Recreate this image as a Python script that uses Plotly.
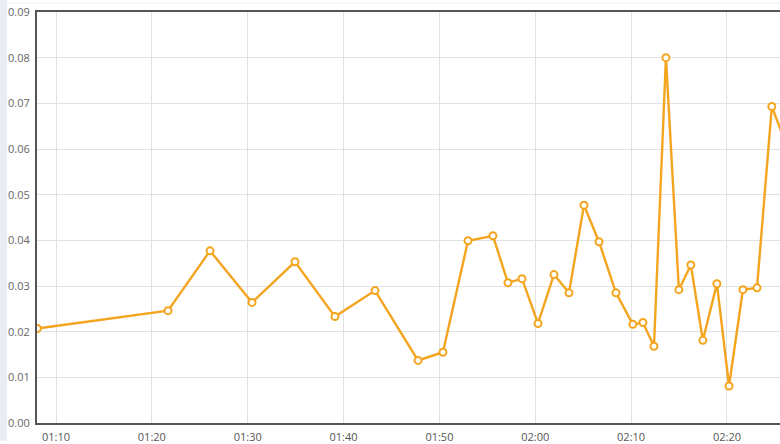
import plotly.graph_objects as go

times = [
    "2024-01-01 01:08:03", "2024-01-01 01:21:41", "2024-01-01 01:26:04", "2024-01-01 01:30:27",
    "2024-01-01 01:34:56", "2024-01-01 01:39:06", "2024-01-01 01:43:17", "2024-01-01 01:47:46",
    "2024-01-01 01:50:22", "2024-01-01 01:52:59", "2024-01-01 01:55:35", "2024-01-01 01:57:09",
    "2024-01-01 01:58:37", "2024-01-01 02:00:17", "2024-01-01 02:01:57", "2024-01-01 02:03:31",
    "2024-01-01 02:05:05", "2024-01-01 02:06:39", "2024-01-01 02:08:25", "2024-01-01 02:10:11",
    "2024-01-01 02:11:14", "2024-01-01 02:12:23", "2024-01-01 02:13:38", "2024-01-01 02:14:59",
    "2024-01-01 02:16:14", "2024-01-01 02:17:29", "2024-01-01 02:18:57", "2024-01-01 02:20:13",
    "2024-01-01 02:21:40", "2024-01-01 02:23:08", "2024-01-01 02:24:41", "2024-01-01 02:26:00",
]
values = [
    0.0207, 0.0246, 0.0377, 0.0264, 0.0353, 0.0233, 0.0290, 0.0137,
    0.0155, 0.0399, 0.0410, 0.0307, 0.0316, 0.0218, 0.0325, 0.0285,
    0.0477, 0.0397, 0.0285, 0.0216, 0.0220, 0.0168, 0.0800, 0.0292,
    0.0346, 0.0181, 0.0305, 0.0081, 0.0292, 0.0296, 0.0693, 0.0620,
]
x_range = ["2024-01-01 01:08:01", "2024-01-01 02:25:32"]
y_range = [0, 0.09]

LINE = "#f4a520"

fig = go.Figure()
fig.add_trace(go.Scatter(
    x=times, y=values, mode="lines+markers",
    line=dict(color=LINE, width=2.4),
    marker=dict(symbol="circle", size=7, color="white", line=dict(color=LINE, width=2)),
    cliponaxis=True, showlegend=False, hoverinfo="skip",
))

H = 444 - 12 - 18
W = 780 - 37
fig.add_shape(type="rect", xref="paper", yref="paper",
              x0=-37 / W, x1=-30 / W, y0=-18 / H, y1=1 + 12 / H,
              fillcolor="#e9eef6", line=dict(width=0), layer="above")
fig.add_shape(type="line", xref="paper", yref="paper",
              x0=-30 / W, x1=1, y0=1 + 9 / H, y1=1 + 9 / H,
              line=dict(color="#eeeeee", width=1), layer="above")

fig.update_layout(
    width=780, height=444,
    margin=dict(l=37, r=0, t=12, b=18),
    paper_bgcolor="white", plot_bgcolor="white",
    font=dict(family="Open Sans, sans-serif", size=11, color="#666666"),
    xaxis=dict(
        type="date", range=x_range, tickformat="%H:%M", dtick=600000,
        tick0="2024-01-01 01:00:00",
        showgrid=True, gridcolor="#e2e2e2", gridwidth=1,
        showline=True, linecolor="#555555", linewidth=2, mirror=True,
        ticks="", ticklabelstandoff=3, zeroline=False,
        tickfont=dict(size=11, color="#555555"),
    ),
    yaxis=dict(
        range=y_range, dtick=0.01, tickformat=".2f",
        showgrid=True, gridcolor="#e2e2e2", gridwidth=1,
        showline=True, linecolor="#555555", linewidth=2, mirror=False,
        ticks="", ticklabelstandoff=3, zeroline=False,
        tickfont=dict(size=11, color="#666666"),
    ),
)

fig.write_html(
    "out.html",
    config={"displayModeBar": False},
    post_script="document.body.style.margin='0';document.body.style.overflow='hidden';",
)
